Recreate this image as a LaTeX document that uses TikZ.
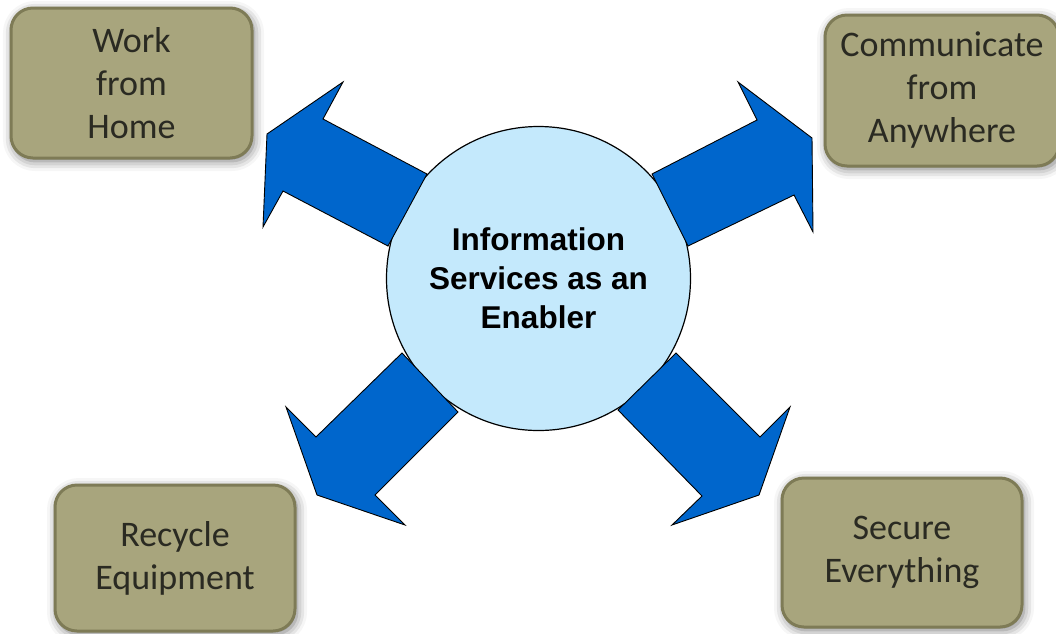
\documentclass[tikz,border=0pt]{standalone}
\usepackage{fontspec}
\setmainfont{Carlito}
\newfontfamily\hubfont{Liberation Sans}
\usepackage{tikz}
\usetikzlibrary{shadows.blur}
\definecolor{khaki}{HTML}{A8A57D}
\definecolor{khakiline}{HTML}{7E7B56}
\definecolor{goaltext}{HTML}{2A2A22}
\definecolor{hubfill}{HTML}{C4E9FC}
\definecolor{arrowblue}{HTML}{0066CC}

\begin{document}
\begin{tikzpicture}[x=1pt,y=-1pt,
    goal/.style={draw=khakiline,line width=3pt,fill=khaki,rounded corners=22pt,
      text=goaltext,align=center,inner sep=0pt,
      font=\fontsize{36}{43}\selectfont,
      blur shadow={shadow xshift=2pt,shadow yshift=-3pt,
        shadow blur radius=10pt,shadow opacity=55}},
    hub/.style={circle,draw=black,line width=1.2pt,fill=hubfill,
      minimum size=304pt,align=center,
      font=\hubfont\bfseries\fontsize{31.5}{39}\selectfont},
    blockarrow/.style={draw=black,line width=0.9pt,fill=arrowblue,
      line join=miter}]
    \useasboundingbox (0,0) rectangle (1056,633);
    \node[hub] (hub) at (538.5,278.5) {Information\\Services as an\\Enabler};
    \node[goal,minimum width=241pt,minimum height=150pt] (home) at (131.5,83)
      {Work\\from\\Home};
    \node[goal,minimum width=234pt,minimum height=151pt] (anywhere) at (942,90.5)
      {Communicate\\from\\Anywhere};
    \node[goal,minimum width=240pt,minimum height=146pt] (recycle) at (175,558)
      {Recycle\\Equipment};
    \node[goal,minimum width=240pt,minimum height=149pt] (secure) at (902,552.5)
      {Secure\\Everything};
    \path[blockarrow]
      (427,174) -- (323,119) -- (343,82) -- (267,134) -- (263,227)
      -- (283,191) -- (388,246) -- cycle
      (652,174) -- (757,120) -- (738,82) -- (812,138) -- (813,232)
      -- (794,195) -- (688,246) -- cycle
      (402,353) -- (316,437) -- (286,407) -- (317,495) -- (405,525)
      -- (375,495) -- (458,412) -- cycle
      (676,353) -- (760,437) -- (790,407) -- (759,495) -- (672,525)
      -- (702,496) -- (618,410) -- cycle;
  \end{tikzpicture}
\end{document}
